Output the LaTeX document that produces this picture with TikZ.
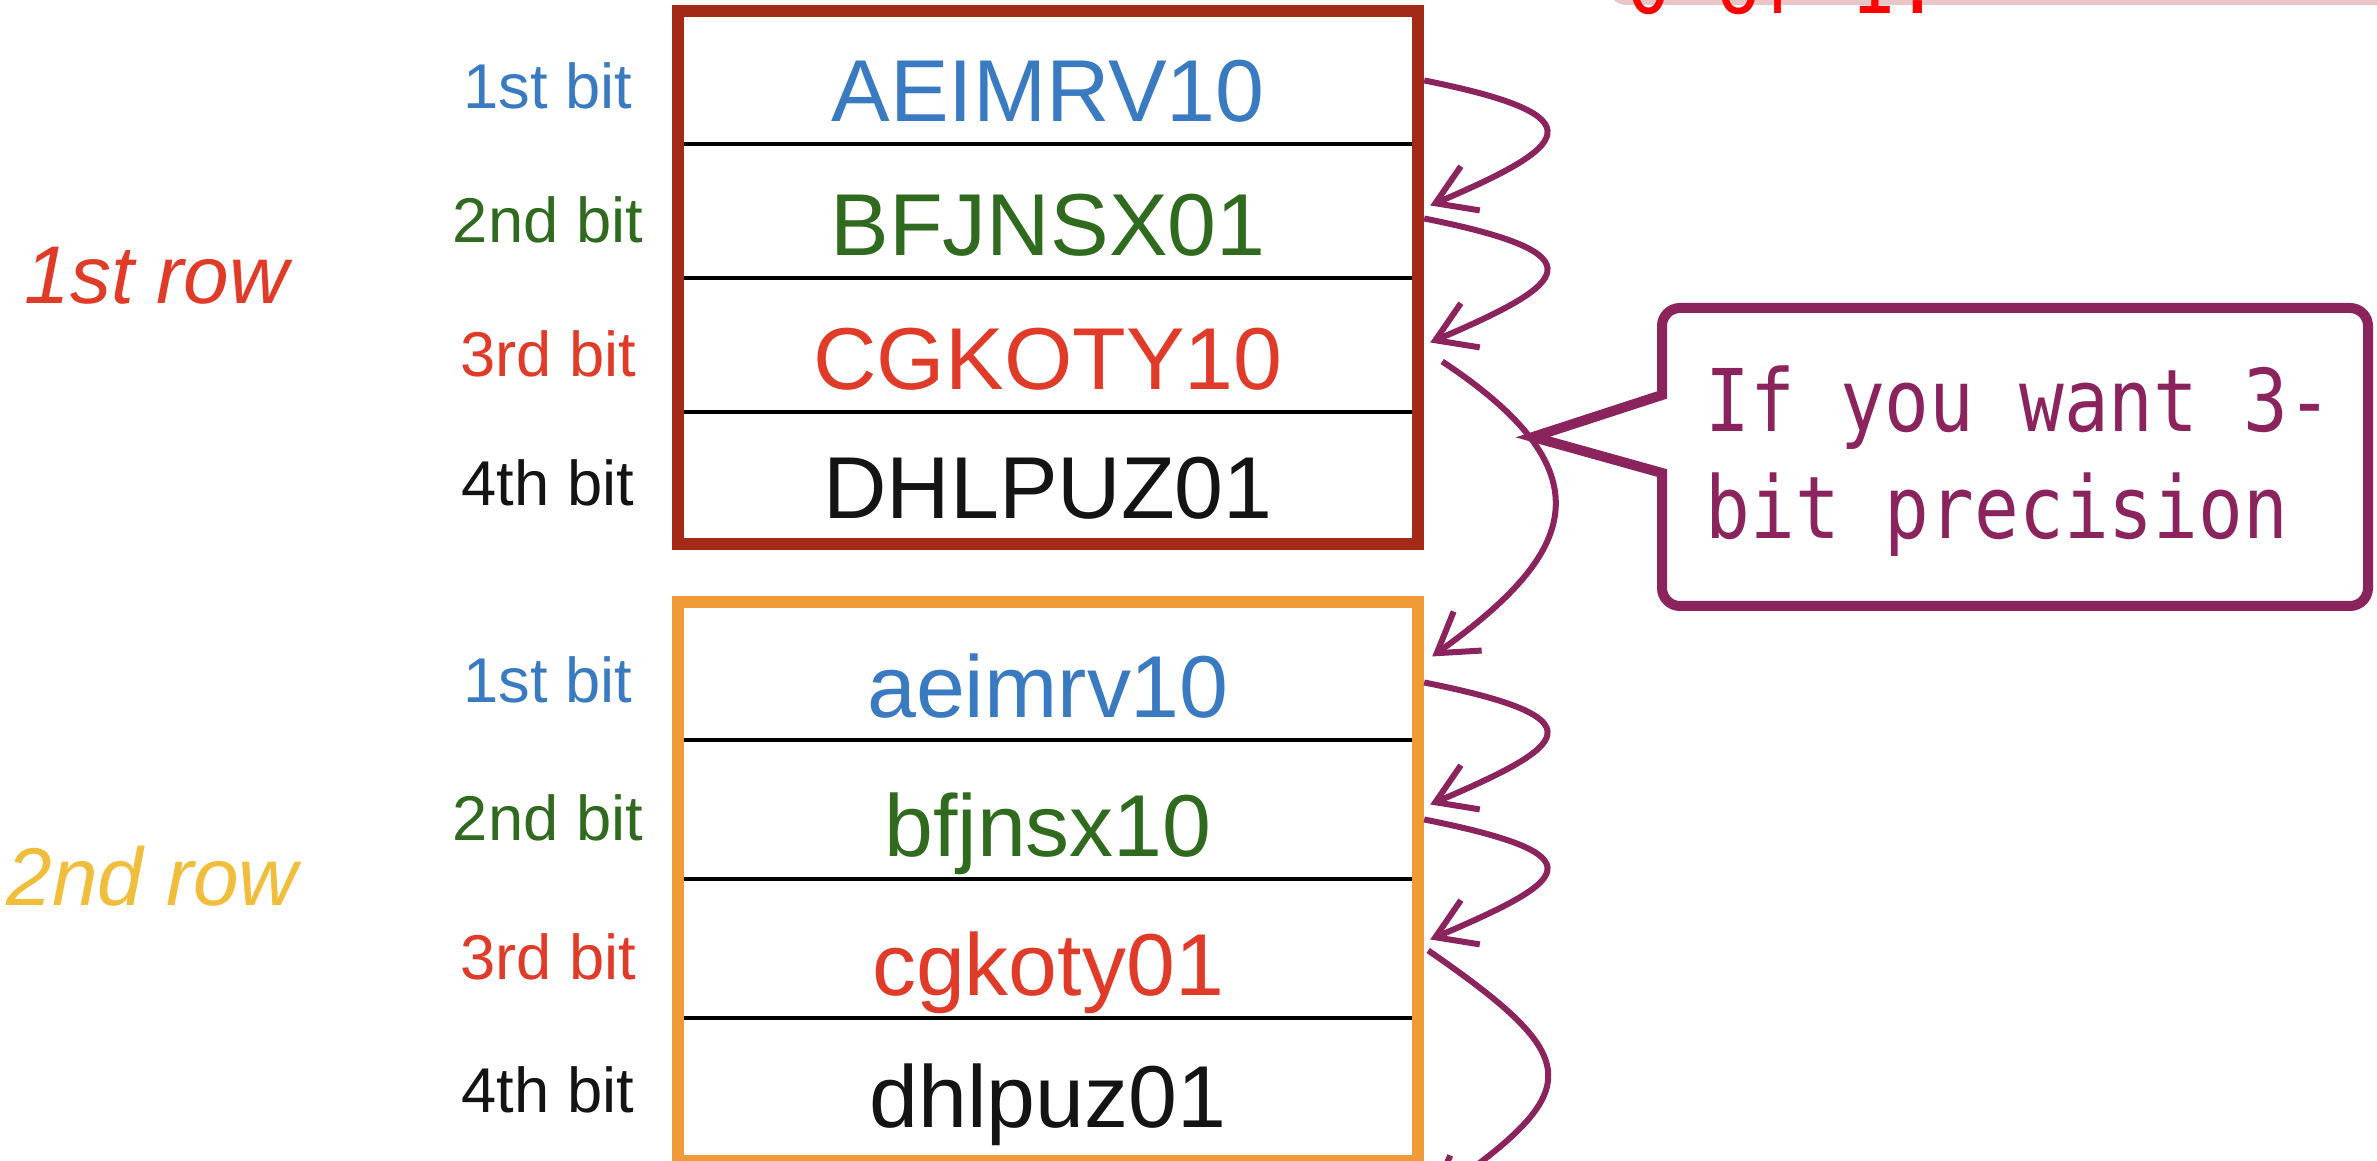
\documentclass[tikz,border=0pt]{standalone}
\usepackage{fontspec}
\setmainfont{Liberation Sans}
\newfontfamily\calloutfont[FakeStretch=0.86]{DejaVu Sans Mono}
\usetikzlibrary{arrows.meta}

\definecolor{framered}{HTML}{A42A18}
\definecolor{frameorange}{HTML}{EF9B38}
\definecolor{bitblue}{HTML}{397AC0}
\definecolor{bitgreen}{HTML}{2F6A1F}
\definecolor{bitred}{HTML}{E03A28}
\definecolor{bitblack}{HTML}{141414}
\definecolor{rowyellow}{HTML}{F0BE3C}
\definecolor{arrowpurple}{HTML}{8B245D}
\definecolor{notepink}{HTML}{EBC6C6}
\definecolor{notered}{HTML}{FF0000}

\begin{document}
\begin{tikzpicture}[x=0.01cm, y=-0.01cm,
  boxframe/.style={draw, line width=0.12cm, minimum width=7.40cm, inner sep=0, outer sep=0},
  bitcell/.style={inner sep=0, outer sep=0, minimum width=7.28cm, text height=1.05cm,
    text depth=0.22cm, anchor=base, font=\fontsize{25}{30}\selectfont},
  bitlabel/.style={inner sep=0, anchor=base, font=\fontsize{18}{22}\selectfont},
  rowlabel/.style={inner sep=0, anchor=base west, font=\fontsize{23.3}{28}\selectfont\itshape},
  divider/.style={line width=0.04cm, black},
  hoparrow/.style={draw=arrowpurple, line width=0.06cm,
    -{Straight Barb[length=0.38cm, width=0.48cm]}},
  callout/.style={draw=arrowpurple, line width=0.1cm},
  callouttext/.style={inner sep=0, anchor=base west, align=left, text=arrowpurple,
    font=\calloutfont\fontsize{24.6}{30.7}\selectfont},
]
\useasboundingbox (0,0) rectangle (2377,1161);
\clip (0,0) rectangle (2377,1161);

% note box peeking in at the top
\fill[notepink, rounded corners=0.2cm] (1607,-80) rectangle (2450,5);
\node[inner sep=0, anchor=base west, text=notered,
  font=\calloutfont\fontsize{24.6}{30}\selectfont] (note) at (1626,14) {0 or 1.};

% first row: four bits
\node[bitcell, text=bitblue]  (r1) at (1048,122) {AEIMRV10};
\node[bitcell, text=bitgreen] (r2) at (1048,256) {BFJNSX01};
\node[bitcell, text=bitred]   (r3) at (1048,390) {CGKOTY10};
\node[bitcell, text=bitblack] (r4) at (1048,519) {DHLPUZ01};
\draw[divider] (r1.south west) -- (r1.south east);
\draw[divider] (r2.south west) -- (r2.south east);
\draw[divider] (r3.south west) -- (r3.south east);
\node[boxframe, draw=framered, minimum height=5.33cm] (rowA) at (1048,277.5) {};

\node[bitlabel, text=bitblue]  (la1) at (548,109) {1st bit};
\node[bitlabel, text=bitgreen] (la2) at (548,243) {2nd bit};
\node[bitlabel, text=bitred]   (la3) at (548,377) {3rd bit};
\node[bitlabel, text=bitblack] (la4) at (548,506) {4th bit};
\node[rowlabel, text=bitred] (rowAname) at (24,304) {1st row};

% second row: four bits
\node[bitcell, text=bitblue]  (o1) at (1048,718) {aeimrv10};
\node[bitcell, text=bitgreen] (o2) at (1048,857) {bfjnsx10};
\node[bitcell, text=bitred]   (o3) at (1048,996) {cgkoty01};
\node[bitcell, text=bitblack] (o4) at (1048,1128) {dhlpuz01};
\draw[divider] (o1.south west) -- (o1.south east);
\draw[divider] (o2.south west) -- (o2.south east);
\draw[divider] (o3.south west) -- (o3.south east);
\node[boxframe, draw=frameorange, minimum height=5.59cm] (rowB) at (1048,881.5) {};

\node[bitlabel, text=bitblue]  (lb1) at (548,703) {1st bit};
\node[bitlabel, text=bitgreen] (lb2) at (548,841) {2nd bit};
\node[bitlabel, text=bitred]   (lb3) at (548,980) {3rd bit};
\node[bitlabel, text=bitblack] (lb4) at (548,1113) {4th bit};
\node[rowlabel, text=rowyellow] (rowBname) at (6,906) {2nd row};

% hops from bit to bit
\path[hoparrow] ([shift={(12,0)}]r1.east) .. controls +(180,36) and +(138,-59) .. ([shift={(18,-9)}]r2.east);
\path[hoparrow] ([shift={(12,4)}]r2.east) .. controls +(180,36) and +(138,-59) .. ([shift={(18,-6)}]r3.east);
\path[hoparrow] ([shift={(30,13)}]r3.east) .. controls +(174,115) and +(138,-99) .. ([shift={(20,-20)}]o1.east);
\path[hoparrow] ([shift={(12,6)}]o1.east) .. controls +(180,36) and +(138,-59) .. ([shift={(18,-11)}]o2.east);
\path[hoparrow] ([shift={(12,4)}]o2.east) .. controls +(180,36) and +(138,-59) .. ([shift={(18,-15)}]o3.east);
\coordinate (nextrow) at (1428,1200);
\path[hoparrow] ([shift={(16,-4)}]o3.east) .. controls +(159,110) and +(159,-110) .. (nextrow);

% callout with pointer
\draw[callout] (2000,308) [rounded corners=0.18cm] -- (2368,308) -- (2368,606) -- (1662,606)
  -- (1662,540) [sharp corners] -- (1662,473) -- (1533,437) -- (1662,395) -- (1662,370)
  [rounded corners=0.18cm] -- (1662,308) -- cycle;
% the base anchor of a two-line node sits on its last line
\node[callouttext] (ctext) at (1705,539) {If you want 3-\\bit precision};
\end{tikzpicture}
\end{document}
